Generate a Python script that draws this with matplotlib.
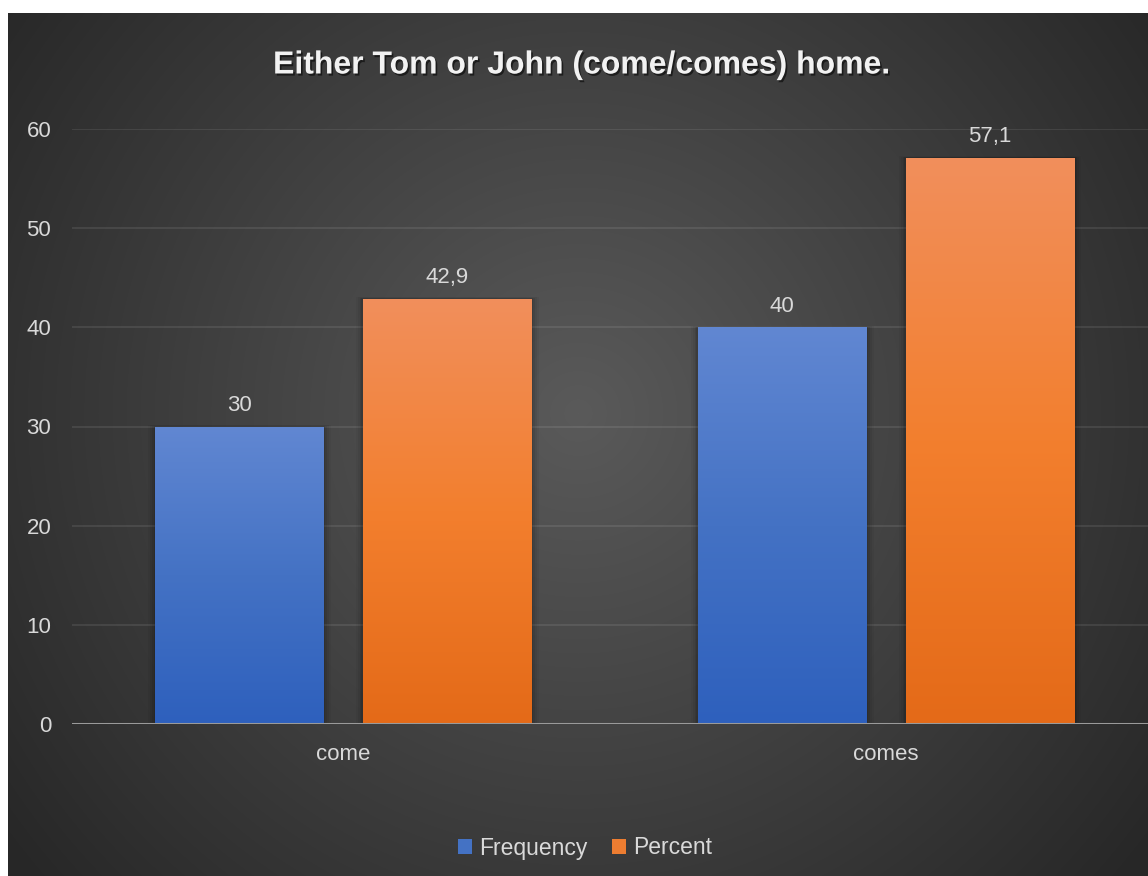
import numpy as np
import matplotlib
matplotlib.use('Agg')
import matplotlib.pyplot as plt
import matplotlib.patheffects as pe
from matplotlib.patches import Rectangle, Patch
from matplotlib.colors import LinearSegmentedColormap

# ---------------- data ----------------
title = 'Either Tom or John (come/comes) home.'
categories = ['come', 'comes']
series_names = ['Frequency', 'Percent']
frequency = [30, 40]
percent = [42.9, 57.1]
value_labels_freq = ['30', '40']
value_labels_pct = ['42,9', '57,1']
yticks = [0, 10, 20, 30, 40, 50, 60]

plt.rcParams['font.family'] = ['Liberation Sans', 'DejaVu Sans']

W, H = 1148, 876
fig = plt.figure(figsize=(W / 100, H / 100), dpi=100, facecolor='white')

# ---------------- background (radial gradient) ----------------
bg = fig.add_axes([8 / W, 0, 1 - 8 / W, (H - 13) / H])
bg.set_axis_off()
bh, bw = H - 13, W - 8
yy, xx = np.mgrid[0:bh, 0:bw]
cx, cy = 570, 400
r = np.hypot((xx - cx) / 1.0, (yy - cy) / 1.0)
r = np.clip(r / 720.0, 0, 1)
c0 = np.array([0x5a, 0x5a, 0x5a]) / 255
c1 = np.array([0x27, 0x27, 0x27]) / 255
img = c0[None, None, :] * (1 - r[..., None]) + c1[None, None, :] * r[..., None]
bg.imshow(img, extent=(0, bw, bh, 0), aspect='auto', interpolation='bilinear')
bg.set_xlim(0, bw)
bg.set_ylim(bh, 0)

# ---------------- main axes ----------------
ax_left, ax_right = 72, 1157.5
ax_top, ax_bottom = 129, 724
ax = fig.add_axes([ax_left / W, (H - ax_bottom) / H,
                   (ax_right - ax_left) / W, (ax_bottom - ax_top) / H])
ax.patch.set_alpha(0)
ax.set_xlim(-0.5, 1.5)
ax.set_ylim(0, 60)
for s in ax.spines.values():
    s.set_visible(False)

ax.set_yticks(yticks)
ax.set_yticklabels([str(t) for t in yticks])
ax.set_xticks(range(len(categories)))
ax.set_xticklabels(categories)
ax.tick_params(axis='both', length=0, labelsize=16, labelcolor='#d9d9d9')
ax.tick_params(axis='y', pad=15)
ax.tick_params(axis='x', pad=14.5)
ax.grid(axis='y', color='#ffffff', alpha=0.1, linewidth=1.2)
ax.set_axisbelow(True)
ax.axhline(0, color='#9a9a9a', linewidth=2.2, zorder=4)

x = np.arange(len(categories))
bw_ = 0.311
off = 0.1915

blue_cmap = LinearSegmentedColormap.from_list('b', ['#2e60bd', '#4472c4', '#6187d2'])
orange_cmap = LinearSegmentedColormap.from_list('o', ['#e46a18', '#f37f2e', '#f18f5c'])

px_x = 2.0 / (ax_right - ax_left)
px_y = 60.0 / (ax_bottom - ax_top)


def gradient_bars(xs, vals, cmap, face):
    bars = ax.bar(xs, vals, width=bw_, color=face, zorder=3)
    grad = np.linspace(0, 1, 256).reshape(-1, 1)
    for b in bars:
        x0, w, h = b.get_x(), b.get_width(), b.get_height()
        # soft shadow (mostly on the sides)
        for k, a in [(7, 0.04), (5, 0.05), (3, 0.07), (1.5, 0.09)]:
            ax.add_patch(Rectangle((x0 - k * px_x, 0), w + 2 * k * px_x, h + 0.25 * k * px_y,
                                   facecolor='black', alpha=a, linewidth=0, zorder=2))
        im = ax.imshow(grad, cmap=cmap, origin='lower', aspect='auto',
                       extent=(x0, x0 + w, 0, h), zorder=3.5, interpolation='bilinear')
        im.set_clip_path(b)
    return bars


bars_f = gradient_bars(x - off, frequency, blue_cmap, '#4472c4')
bars_p = gradient_bars(x + off, percent, orange_cmap, '#ed7d31')
ax.set_xlim(-0.5, 1.5)
ax.set_ylim(0, 60)

for b, lab in zip(bars_f, value_labels_freq):
    ax.annotate(lab, (b.get_x() + b.get_width() / 2, b.get_height()),
                xytext=(0, 11), textcoords='offset points', ha='center', va='baseline',
                fontsize=16, color='#d9d9d9', zorder=6)
for b, lab in zip(bars_p, value_labels_pct):
    ax.annotate(lab, (b.get_x() + b.get_width() / 2, b.get_height()),
                xytext=(0, 11), textcoords='offset points', ha='center', va='baseline',
                fontsize=16, color='#d9d9d9', zorder=6)

# ---------------- title ----------------
fig.text(582 / W, 1 - 73.5 / H, title, ha='center', va='baseline',
         fontsize=23, fontweight='bold', color='#f2f2f2',
         path_effects=[pe.SimplePatchShadow(offset=(1.2, -1.5), shadow_rgbFace='black', alpha=0.55),
                       pe.Normal()])

# ---------------- legend ----------------
handles = [Patch(facecolor='#4472c4', edgecolor='none'),
           Patch(facecolor='#ed7d31', edgecolor='none')]
leg = fig.legend(handles, series_names, loc='center', bbox_to_anchor=(585 / W, 1 - 848 / H),
                 ncol=2, frameon=False, fontsize=16.5, labelcolor='#d9d9d9',
                 handlelength=0.6, handleheight=0.6, handletextpad=0.3,
                 columnspacing=1.1)

fig.savefig('out.png', dpi=100, facecolor='white')
